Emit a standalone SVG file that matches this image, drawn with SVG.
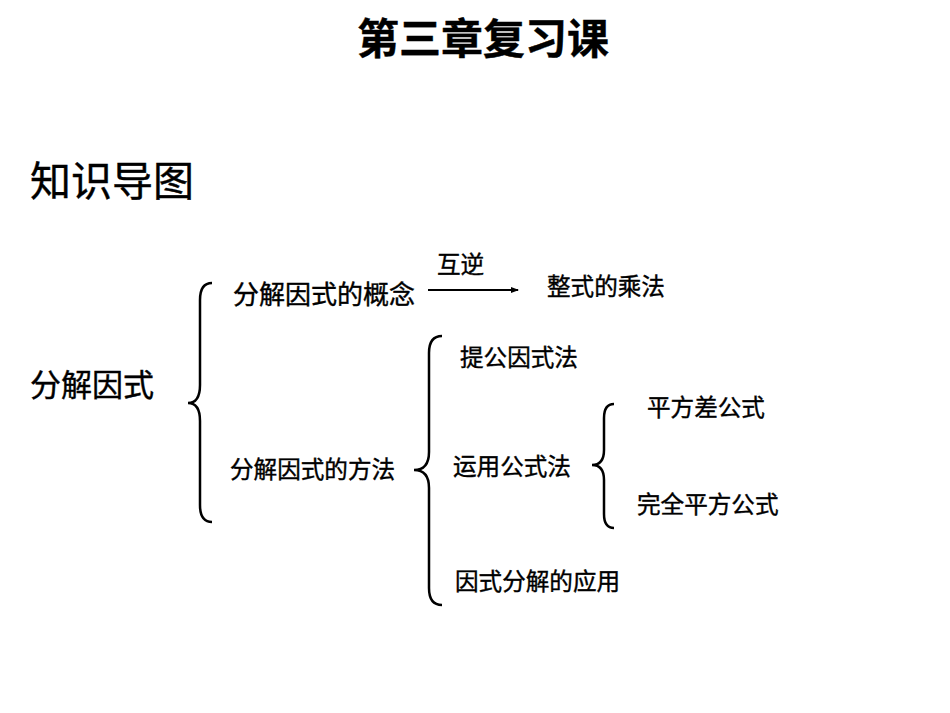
<svg xmlns="http://www.w3.org/2000/svg" width="950" height="713" viewBox="0 0 950 713">
<style>
text{font-family:"Liberation Sans","Noto Sans CJK SC",sans-serif;fill:#000;stroke:#000;stroke-width:0.4}
.t{font-size:23.6px}
.b{fill:none;stroke:#000;stroke-width:2.5}
</style>
<defs><marker id="a" markerWidth="8" markerHeight="8" refX="7" refY="4" orient="auto" markerUnits="userSpaceOnUse"><path d="M0,1 L8,4 L0,7 Z" fill="#000"/></marker></defs>
<rect width="950" height="713" fill="#fff"/>
<text x="483" y="54" font-size="42" font-weight="bold" text-anchor="middle">第三章复习课</text>
<text x="30" y="196" font-size="41">知识导图</text>
<g id="n1"><text x="30" y="396" font-size="31">分解因式</text></g>
<g id="n2"><text x="233" y="304" font-size="26">分解因式的概念</text></g>
<g id="n3"><text class="t" x="547" y="295">整式的乘法</text></g>
<g id="n4"><text class="t" x="230" y="478">分解因式的方法</text></g>
<g id="n5"><text class="t" x="460" y="366">提公因式法</text></g>
<g id="n6"><text class="t" x="453" y="475">运用公式法</text></g>
<g id="n7"><text class="t" x="647" y="416">平方差公式</text></g>
<g id="n8"><text class="t" x="637" y="513">完全平方公式</text></g>
<g id="n9"><text class="t" x="455" y="590">因式分解的应用</text></g>
<g id="connectors">
<path class="b" d="M212,283 Q200,283 200,300 L200,385 Q200,403 188,403 Q200,403 200,421 L200,505 Q200,522 212,522"/>
<path class="b" d="M442,336 Q429,336 429,353 L429,452 Q429,470 414,470 Q429,470 429,488 L429,588 Q429,605 442,605"/>
<path class="b" d="M614,404 Q604,404 604,418 L604,450 Q604,465 592,465 Q604,465 604,480 L604,514 Q604,528 614,528"/>
<line x1="428" y1="290" x2="518" y2="290" stroke="#000" stroke-width="2" marker-end="url(#a)"/>
<text class="t" x="437" y="273">互逆</text>
</g>
</svg>
